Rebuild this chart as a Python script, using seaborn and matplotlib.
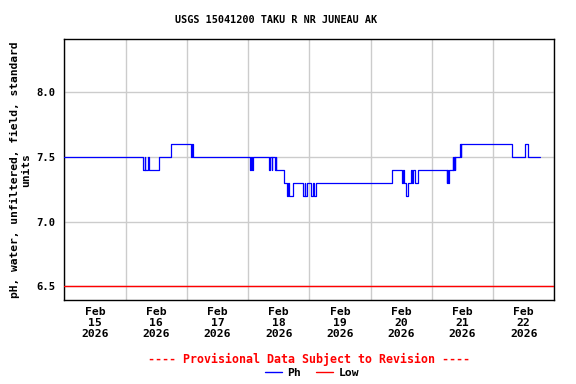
import pandas as pd
import matplotlib
matplotlib.use("Agg")
import matplotlib.pyplot as plt
import matplotlib.dates as mdates
import seaborn as sns

# ---------------- data ----------------
# change points of the pH record, hours after Feb 15 2026 00:00
ph_hours = [
    0.0, 30.95, 31.6, 31.8, 32.7, 33.3, 37.0, 41.9, 49.8, 50.0, 50.3,
    72.8, 73.3, 73.5, 74.0, 80.3, 80.7, 81.2, 81.4, 82.4, 82.8, 83.1,
    86.1, 87.1, 87.8, 88.0, 89.5, 93.6, 94.3, 94.5, 95.1, 96.8, 97.6,
    97.8, 98.5, 128.5, 132.4, 132.7, 133.0, 133.8, 134.5, 135.8, 136.3,
    136.6, 137.4, 138.5, 149.8, 150.1, 150.3, 150.6, 152.2, 152.4, 152.7,
    153.0, 153.2, 155.0, 155.3, 155.6, 175.3, 180.4, 181.8, 186.3,
]
ph_values = [
    7.5, 7.4, 7.5, 7.4, 7.5, 7.4, 7.5, 7.6, 7.5, 7.6, 7.5,
    7.4, 7.5, 7.4, 7.5, 7.4, 7.5, 7.4, 7.5, 7.4, 7.5, 7.4,
    7.3, 7.2, 7.3, 7.2, 7.3, 7.2, 7.3, 7.2, 7.3, 7.2, 7.3,
    7.2, 7.3, 7.4, 7.3, 7.4, 7.3, 7.2, 7.3, 7.4, 7.3,
    7.4, 7.3, 7.4, 7.3, 7.4, 7.3, 7.4, 7.5, 7.4, 7.5,
    7.4, 7.5, 7.6, 7.5, 7.6, 7.5, 7.6, 7.5, 7.5,
]
low_value = 6.5

start = pd.Timestamp("2026-02-15")
end = pd.Timestamp("2026-02-23")
df = pd.DataFrame({
    "time": start + pd.to_timedelta(ph_hours, unit="h"),
    "ph": ph_values,
})

# ---------------- style ----------------
sns.set_style("white")
plt.rcParams["font.family"] = ["DejaVu Sans Mono"]
plt.rcParams["font.weight"] = "bold"
plt.rcParams["text.color"] = "black"
plt.rcParams["axes.labelcolor"] = "black"
plt.rcParams["xtick.color"] = "black"
plt.rcParams["ytick.color"] = "black"

fig = plt.figure(figsize=(5.76, 3.84), dpi=100)
ax = fig.add_axes([64.3 / 576, 1 - 300 / 384, 490 / 576, 260.7 / 384])

ax.axhline(low_value, color="#ff0000", linewidth=1.0, zorder=3)
sns.lineplot(
    data=df, x="time", y="ph", ax=ax,
    color="#0000ff", linewidth=0.9, drawstyle="steps-post",
    estimator=None, zorder=4,
)

ax.set_xlim(start, end)
ax.set_ylim(6.395, 8.41)
ax.set_yticks([6.5, 7.0, 7.5, 8.0])
ax.yaxis.set_major_formatter(matplotlib.ticker.FormatStrFormatter("%.1f"))

ax.xaxis.set_major_locator(mdates.HourLocator(byhour=12))
ax.xaxis.set_major_formatter(mdates.DateFormatter("%b\n%d\n%Y"))
ax.xaxis.set_minor_locator(mdates.DayLocator())

ax.grid(False)
ax.grid(axis="x", which="minor", color="#cccccc", linewidth=1.0)
ax.grid(axis="y", which="major", color="#cccccc", linewidth=1.0)
ax.set_axisbelow(True)

ax.tick_params(axis="both", which="both", length=0, colors="black")
ax.tick_params(axis="y", labelsize=7.6, pad=6.5)
ax.tick_params(axis="x", labelsize=8.2, pad=5)
for lab in ax.get_xticklabels():
    lab.set_linespacing(1.1)
    lab.set_fontweight("bold")
for lab in ax.get_yticklabels():
    lab.set_fontweight("bold")

for s in ax.spines.values():
    s.set_color("black")
    s.set_linewidth(1.0)

ax.set_xlabel("")
ax.set_ylabel(
    "pH, water, unfiltered, field, standard\nunits",
    fontsize=8.1, fontweight="bold", linespacing=1.1, color="black",
)
# label anchor is its right edge after rotation
ax.yaxis.set_label_coords(-33 / 490, 0.5)

fig.text(276 / 576, 1 - 20 / 384, "USGS 15041200 TAKU R NR JUNEAU AK",
         ha="center", va="center", fontsize=7.3, fontweight="bold",
         color="black")
fig.text(308.5 / 576, 1 - 359 / 384,
         "---- Provisional Data Subject to Revision ----",
         ha="center", va="center", fontsize=8.4, fontweight="bold",
         color="#ff0000")

handles = [
    plt.Line2D([], [], color="#0000ff", linewidth=1.0),
    plt.Line2D([], [], color="#ff0000", linewidth=1.0),
]
fig.legend(
    handles, ["Ph", "Low"], ncol=2, frameon=False, loc="center",
    bbox_to_anchor=(312 / 576, 1 - 373 / 384),
    prop={"size": 8.2, "weight": "bold"},
    handlelength=1.5, handletextpad=0.5, columnspacing=1.3,
    labelcolor="black",
)

fig.savefig("out.png", dpi=100)
